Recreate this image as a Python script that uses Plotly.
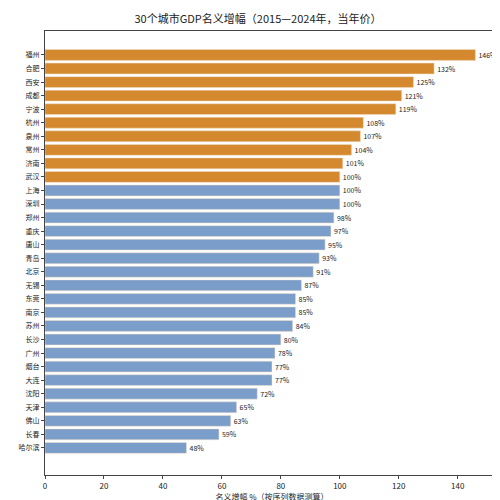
import plotly.graph_objects as go

cities = ["福州","合肥","西安","成都","宁波","杭州","泉州","常州","济南","武汉","上海","深圳","郑州","重庆","唐山","青岛","北京","无锡","东莞","南京","苏州","长沙","广州","烟台","大连","沈阳","天津","佛山","长春","哈尔滨"]
growth = [146,132,125,121,119,108,107,104,101,100,100,100,98,97,95,93,91,87,85,85,84,80,78,77,77,72,65,63,59,48]
top_n = 10

pos = list(range(len(cities)))
colors = ["#D4892F" if i < top_n else "#7B9DC9" for i in pos]

fig = go.Figure(go.Bar(
    x=growth, y=pos, orientation="h", width=0.8,
    marker=dict(color=colors, line=dict(color="#f3e0c8", width=0.5)),
    text=[f"{v}%" for v in growth], textposition="outside",
    textfont=dict(size=7, color="#222"), cliponaxis=False,
))
fig.update_layout(
    width=500, height=500, plot_bgcolor="white", paper_bgcolor="white",
    margin=dict(l=37, r=9, t=23, b=33, autoexpand=False),
    font=dict(family="Noto Sans CJK SC", size=8, color="#222"),
    title=dict(text="30个城市GDP名义增幅（2015—2024年，当年价）", x=0.5, xanchor="center", y=0.985, yanchor="top", font=dict(size=11)),
    showlegend=False,
    xaxis=dict(range=[0, 154], tickvals=[0,20,40,60,80,100,120,140], showgrid=False, automargin=False,
               showline=True, linecolor="#444", mirror=True, ticks="outside", ticklen=3,
               title=dict(text="名义增幅 %（按序列数据测算）", standoff=2, font=dict(size=8))),
    yaxis=dict(range=[31.0, -1.77], tickvals=pos, ticktext=cities, showgrid=False, automargin=False,
               showline=True, linecolor="#444", mirror=True, ticks="outside", ticklen=3,
               tickfont=dict(size=7)),
)
fig.add_annotation(text="数据来源：聚汇数据", xref="paper", yref="paper", x=1.0, y=-0.05,
                   xanchor="right", yanchor="top", showarrow=False, font=dict(size=6, color="#999"))
fig.write_html("out.html")
